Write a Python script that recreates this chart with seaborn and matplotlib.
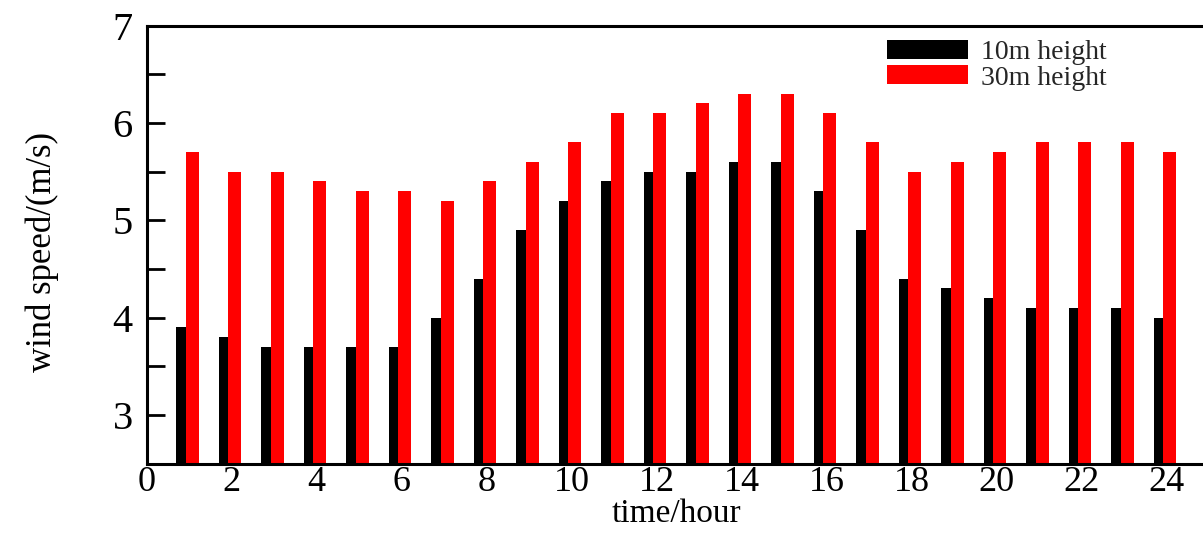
import numpy as np
import pandas as pd
import matplotlib
matplotlib.use("Agg")
import matplotlib.pyplot as plt
import seaborn as sns
from matplotlib.patches import Patch
from matplotlib.ticker import MultipleLocator

# ---- data ----
hours = list(range(1, 25))
speed_10m = [3.9, 3.8, 3.7, 3.7, 3.7, 3.7, 4.0, 4.4, 4.9, 5.2, 5.4, 5.5,
             5.5, 5.6, 5.6, 5.3, 4.9, 4.4, 4.3, 4.2, 4.1, 4.1, 4.1, 4.0]
speed_30m = [5.7, 5.5, 5.5, 5.4, 5.3, 5.3, 5.2, 5.4, 5.6, 5.8, 6.1, 6.1,
             6.2, 6.3, 6.3, 6.1, 5.8, 5.5, 5.6, 5.7, 5.8, 5.8, 5.8, 5.7]
series_labels = ["10m height", "30m height"]
x_ticks = list(range(0, 25, 2))
y_ticks = [3, 4, 5, 6, 7]
x_label = "time/hour"
y_label = "wind speed/(m/s)"

sns.set_theme(style="ticks")
plt.rcParams["font.family"] = ["Liberation Serif", "DejaVu Serif"]

W, H = 1203, 537
fig = plt.figure(figsize=(W / 100, H / 100), dpi=100)
ax = fig.add_axes([146.7 / W, (H - 463.5) / H, 1062.5 / W, 438 / H])

df10 = pd.DataFrame({"hour": np.array(hours) - 0.19, "speed": speed_10m})
df30 = pd.DataFrame({"hour": np.array(hours) + 0.07, "speed": speed_30m})
sns.barplot(data=df10, x="hour", y="speed", native_scale=True, width=0.22,
            color="black", saturation=1, linewidth=0, errorbar=None, ax=ax)
sns.barplot(data=df30, x="hour", y="speed", native_scale=True, width=0.30,
            color="#ff0000", saturation=1, linewidth=0, errorbar=None, ax=ax)

ax.set_xlim(0, 25)
ax.set_ylim(2.5, 7)
ax.set_xticks(x_ticks)
ax.set_xticklabels([str(t) for t in x_ticks])
ax.set_yticks(y_ticks)
ax.set_yticklabels([str(t) for t in y_ticks])
ax.yaxis.set_minor_locator(MultipleLocator(0.5))

for s in ax.spines.values():
    s.set_linewidth(2.2)
    s.set_color("black")

ax.tick_params(axis="y", which="both", direction="in", length=13, width=2,
               labelsize=29, pad=10, colors="black")
ax.tick_params(axis="x", which="both", length=0, labelsize=26, pad=2,
               colors="black")

ax.set_xlabel(x_label, fontsize=24, color="black")
ax.xaxis.set_label_coords(0.499, -0.081)
ax.set_ylabel(y_label, fontsize=25, color="black")
ax.yaxis.set_label_coords(-0.083, 0.483)

handles = [Patch(facecolor="black", edgecolor="none"),
           Patch(facecolor="#ff0000", edgecolor="none")]
fig.legend(handles, series_labels, loc="upper left",
           bbox_to_anchor=(887 / W, 1 - 40 / H), frameon=False, fontsize=20,
           handlelength=2.9, handleheight=0.68, handletextpad=0.5,
           labelspacing=0.0, borderpad=0, borderaxespad=0)

fig.savefig("out.png", dpi=100)
